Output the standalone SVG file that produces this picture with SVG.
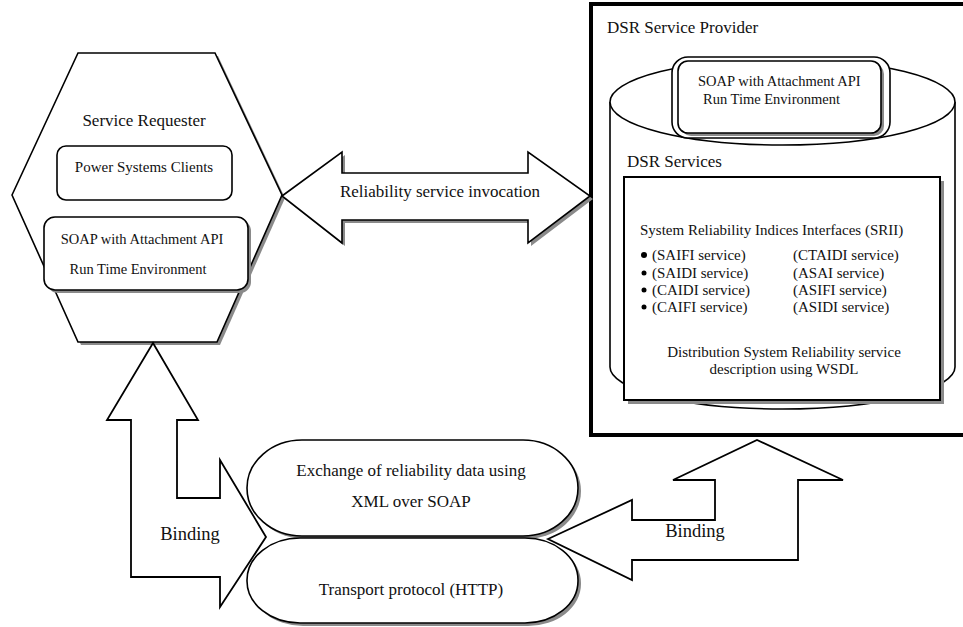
<svg xmlns="http://www.w3.org/2000/svg" width="963" height="627" viewBox="0 0 963 627">
<style>
text{font-family:"Liberation Serif","Times New Roman",serif;fill:#111}
.l{font-size:17px}
.m{font-size:15px}
.s{font-size:14.5px}
.b{font-size:18.5px}
.ln{fill:#fff;stroke:#000;stroke-width:1.6}
.sh{fill:#8a8a8a;stroke:none}
.ar{fill:none;stroke:#000;stroke-width:1.8;stroke-linejoin:miter}
</style>
<rect width="963" height="627" fill="#fff"/>

<g id="provider">
<rect x="591" y="4" width="380" height="431" fill="#fff" stroke="#000" stroke-width="4"/>
<text class="l" x="607" y="33">DSR Service Provider</text>
<path d="M610,102 L610,367 A172.5,42 0 0 0 955,367 L955,102" class="ln" stroke-width="1.3"/>
<ellipse cx="782.5" cy="102" rx="172.5" ry="43" class="ln" stroke-width="1.3"/>
</g>

<g id="provider-soap">
<rect x="672" y="57" width="218" height="81" rx="16" class="ln" stroke-width="1.2"/>
<rect x="681" y="64" width="203" height="72" rx="10" class="sh"/>
<rect x="678" y="61" width="203" height="72" rx="10" class="ln" stroke-width="1.4"/>
<text class="s" x="698" y="86">SOAP with Attachment API</text>
<text class="s" x="703" y="104">Run Time Environment</text>
</g>

<g id="dsr-services">
<text class="l" x="627" y="167">DSR Services</text>
<rect x="628" y="181" width="316" height="223" class="sh"/>
<rect x="624" y="177" width="316" height="223" fill="#fff" stroke="#000" stroke-width="2"/>
<text class="m" x="640" y="235">System Reliability Indices Interfaces (SRII)</text>
<circle cx="644" cy="255" r="3" fill="#000"/>
<circle cx="644" cy="273" r="2.5" fill="#000"/>
<circle cx="644" cy="290" r="2.5" fill="#000"/>
<circle cx="644" cy="307" r="2.5" fill="#000"/>
<text class="m" x="652" y="260">(SAIFI service)</text>
<text class="m" x="652" y="278">(SAIDI service)</text>
<text class="m" x="652" y="295">(CAIDI service)</text>
<text class="m" x="652" y="312">(CAIFI service)</text>
<text class="m" x="793" y="260">(CTAIDI service)</text>
<text class="m" x="793" y="278">(ASAI service)</text>
<text class="m" x="793" y="295">(ASIFI service)</text>
<text class="m" x="793" y="312">(ASIDI service)</text>
<text class="m" x="784" y="357" text-anchor="middle">Distribution System Reliability service</text>
<text class="m" x="784" y="374" text-anchor="middle">description using WSDL</text>
</g>

<g id="requester">
<polygon points="15,198 81,56 218,56 285,198 220,345 81,345" class="sh"/>
<polygon points="12,195 78,53 215,53 282,195 217,342 78,342" class="ln" stroke-width="1.8"/>
<text class="l" x="144" y="126" text-anchor="middle">Service Requester</text>
<rect x="57" y="146" width="175" height="54" rx="9" class="ln" stroke-width="1.5"/>
<text class="m" x="144" y="172" text-anchor="middle">Power Systems Clients</text>
<rect x="47" y="220" width="204" height="73" rx="11" class="sh"/>
<rect x="44" y="217" width="204" height="73" rx="11" class="ln" stroke-width="1.8"/>
<text class="s" x="142" y="244" text-anchor="middle">SOAP with Attachment API</text>
<text class="s" x="138" y="274" text-anchor="middle">Run Time Environment</text>
</g>

<g id="exchange">
<rect x="250" y="443" width="331" height="96" rx="55" ry="48" class="sh"/>
<rect x="247" y="440" width="331" height="96" rx="55" ry="48" class="ln" stroke-width="1.8"/>
<text class="l" x="411" y="476" text-anchor="middle">Exchange of reliability data using</text>
<text class="l" x="411" y="507" text-anchor="middle">XML over SOAP</text>
</g>

<g id="transport">
<rect x="250" y="541" width="331" height="85" rx="53" ry="42" class="sh"/>
<rect x="247" y="538" width="331" height="85" rx="53" ry="42" class="ln" stroke-width="1.8"/>
<text class="l" x="411" y="595" text-anchor="middle">Transport protocol (HTTP)</text>
</g>

<g id="connectors">
<polygon points="285,199 345,155 345,176 531,176 531,155 593,199 531,246 531,223 345,223 345,246" class="sh"/>
<polygon points="282,196 342,152 342,173 528,173 528,152 590,196 528,243 528,220 342,220 342,243" class="ln" stroke-width="1.8"/>
<text class="l" x="440" y="197" text-anchor="middle">Reliability service invocation</text>

<polygon points="153,343 198,420 177,420 177,498 220,498 220,460 266,537 220,607 220,577 131,577 131,420 107,420" class="ar"/>
<text class="b" x="190" y="540" text-anchor="middle">Binding</text>

<polygon points="548,539 632,500 632,520 715,520 715,480 673,480 757,440 843,480 798,480 798,560 632,560 632,580" class="ar"/>
<text class="b" x="695" y="537" text-anchor="middle">Binding</text>
</g>
</svg>
